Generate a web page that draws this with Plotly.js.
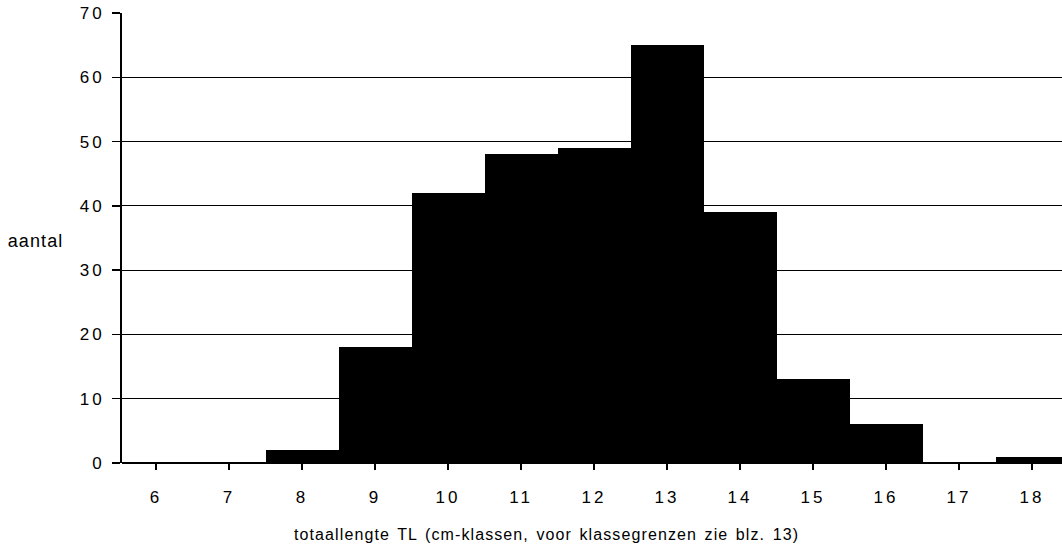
<!DOCTYPE html>
<html>
<head>
<meta charset="utf-8">
<script src="https://cdn.plot.ly/plotly-3.0.1.min.js"></script>
<style>
html,body{margin:0;padding:0;background:#fff;}
#chart{width:1062px;height:553px;}
#chart .xtick text, #chart .ytick text{letter-spacing:3px;}
#chart .annotation text{letter-spacing:1.1px;word-spacing:2px;}
</style>
</head>
<body>
<div id="chart"></div>
<script>
const categories = [6, 7, 8, 9, 10, 11, 12, 13, 14, 15, 16, 17, 18];
const counts = [0, 0, 2, 18, 42, 48, 49, 65, 39, 13, 6, 0, 1];
const yTicks = [0, 10, 20, 30, 40, 50, 60, 70];
const xTitle = "totaallengte TL (cm-klassen, voor klassegrenzen zie blz. 13)";
const yTitle = "aantal";

const family = "Liberation Sans, Arial, Helvetica, sans-serif";
const tickFont = {family: family, size: 17, color: "#000"};
const titleFont = {family: family, size: 16, color: "#000"};

Plotly.newPlot("chart", [{
  type: "bar",
  x: categories,
  y: counts,
  marker: {color: "#000", line: {width: 0}},
  hoverinfo: "x+y"
}], {
  width: 1062, height: 553,
  margin: {l: 122, r: 0, t: 13, b: 90},
  paper_bgcolor: "#fff", plot_bgcolor: "#fff",
  bargap: 0,
  showlegend: false,
  font: titleFont,
  xaxis: {
    range: [5.534, 18.41],
    tickvals: categories,
    ticktext: categories.map(String),
    ticks: "outside", ticklen: 6, tickwidth: 1.5, tickcolor: "#000",
    ticklabelstandoff: 13,
    showgrid: false, zeroline: false,
    showline: false,
    tickfont: tickFont
  },
  yaxis: {
    range: [0, 70],
    tickvals: yTicks,
    ticks: "outside", ticklen: 8, tickwidth: 1.5, tickcolor: "#000",
    ticklabelstandoff: 4,
    showgrid: true, gridcolor: "#000", gridwidth: 1,
    zeroline: true, zerolinecolor: "#000", zerolinewidth: 2,
    showline: true, linecolor: "#000", linewidth: 2,
    tickfont: tickFont
  },
  annotations: [
    {xref: "paper", yref: "paper", x: (546 - 122) / 940, y: -(534 - 463) / 450, xanchor: "center", yanchor: "middle",
     text: xTitle, showarrow: false, font: titleFont},
    {xref: "paper", yref: "y", x: -(122 - 9) / 940, y: 34.5, xanchor: "left", yanchor: "middle",
     text: yTitle, showarrow: false, font: {family: family, size: 18, color: "#000"}}
  ]
}, {displayModeBar: false, staticPlot: true});
</script>
</body>
</html>
